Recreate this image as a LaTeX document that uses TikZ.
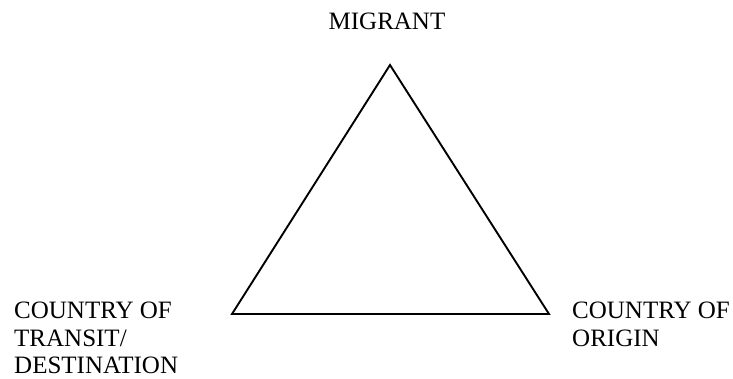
\documentclass[tikz,border=0pt]{standalone}
\usepackage{fontspec}
\setmainfont{Liberation Serif}
\usepackage{tikz}
\usetikzlibrary{positioning}

\begin{document}
\begin{tikzpicture}[
x=1pt, y=1pt,
font=\fontsize{25}{27.5}\selectfont,
corner/.style={
inner sep=0pt,
align=left,
anchor=north west
},
side/.style={line width=1.9pt, line join=miter}
]

% Canvas
\useasboundingbox (0,0) rectangle (733,-379);

% Corners of the triangle
\coordinate (apex) at (390,-65);
\coordinate (left) at (232,-314);
\coordinate (right) at (549,-314);

% Labels
\node[inner sep=0pt, anchor=base] (migrant) at (387,-30) {MIGRANT};

\node[corner] (transit) at (14,-302) {
COUNTRY OF\\
TRANSIT/\\
DESTINATION
};

\node[corner] (origin) at (572,-302) {
COUNTRY OF\\
ORIGIN
};

% Triangle
\draw[side] (apex) -- (right) -- (left) -- cycle;

\end{tikzpicture}
\end{document}
